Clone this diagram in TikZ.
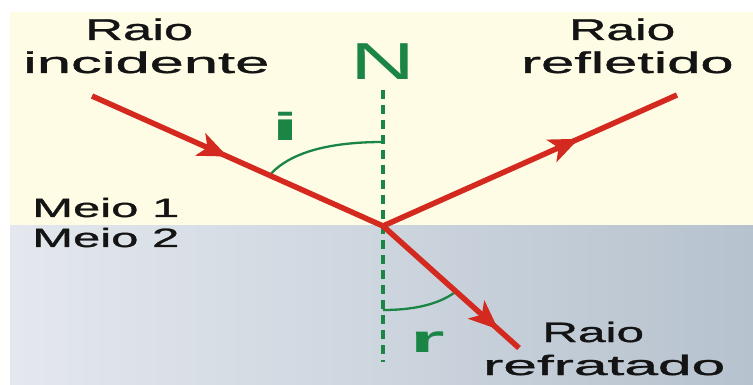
\documentclass[tikz,border=0pt]{standalone}
\usepackage{fontspec}
\setmainfont{Liberation Sans}
\newfontfamily\lblfont[FakeBold=0.9]{Liberation Sans}
\usetikzlibrary{decorations.markings,calc,shadings}
\definecolor{raycol}{HTML}{D3291F}
\definecolor{ncol}{HTML}{1A8544}
\definecolor{bgy}{HTML}{FEFCE5}
\definecolor{bgbL}{HTML}{E4E8EE}
\definecolor{bgbM}{HTML}{C9D2DC}
\definecolor{bgbR}{HTML}{B6C2CE}
\definecolor{txtcol}{HTML}{141414}
\newcommand{\wline}[3]{\fontsize{#1}{#1}\selectfont\scalebox{#2}[1]{#3}}
\tikzset{
  lbl/.style={inner sep=0pt, anchor=base west, text=txtcol, font=\lblfont},
  glbl/.style={inner sep=0pt, anchor=base west, text=ncol},
  ray/.style={draw=raycol, line width=5.5pt},
  rayarrow/.style={decoration={markings, mark=at position #1 with {\fill[raycol] (5pt,0pt) -- (-25pt,12.5pt) -- (-17pt,0pt) -- (-25pt,-12.5pt) -- cycle;}}, postaction={decorate}},
  normalline/.style={draw=ncol, line width=4.2pt, dash pattern=on 9pt off 6pt},
  anglearc/.style={draw=ncol, line width=2.3pt}
}
\begin{document}
\begin{tikzpicture}[x=1pt,y=-1pt]
\useasboundingbox (0,0) rectangle (753,385);
\fill[white] (0,0) rectangle (753,385);
\fill[bgy] (10,12) rectangle (753,226);
\shade[left color=bgbL, middle color=bgbM, right color=bgbR] (10,226) rectangle (753,385);

\coordinate (A) at (92,96);
\coordinate (O) at (383,226);
\coordinate (B) at (677,95);
\coordinate (C) at (519,348);
\coordinate (N1) at (383,90);
\coordinate (N2) at (383,362);

\draw[normalline] (N1) -- (N2);

\coordinate (ai) at ($(A)!0.61!(O)$);
\coordinate (aj) at (383,142);
\draw[anglearc] (ai) .. controls (290,152) and (330,142) .. (aj);
\coordinate (ri) at (383,310);
\coordinate (rj) at ($(O)!0.537!(C)$);
\draw[anglearc] (ri) .. controls (420,310) and (442,302) .. (rj);

\draw[ray, rayarrow=0.45] (A) -- (O);
\draw[ray, rayarrow=0.65] (O) -- (B);
\draw[ray, rayarrow=0.82] (O) -- (C);

\node[lbl] (incA) at (85,40) {\wline{30}{1.75}{Raio}};
\node[lbl] (incB) at (23,73) {\wline{30}{2.05}{incidente}};
\node[lbl] (refA) at (569,40) {\wline{30}{1.72}{Raio}};
\node[lbl] (refB) at (521,73) {\wline{30}{1.99}{refletido}};
\node[lbl] (frA) at (542,342) {\wline{28}{1.77}{Raio}};
\node[lbl] (frB) at (483,375) {\wline{28}{2.16}{refratado}};
\node[lbl] (m1) at (32,217) {\wline{26.5}{1.85}{Meio 1}};
\node[lbl] (m2) at (32,247) {\wline{26.5}{1.85}{Meio 2}};

\node[glbl] (N) at (350,80) {\wline{52}{1.73}{N}};
\node[glbl] (ilbl) at (271,141) {\wline{39}{2.6}{\bfseries i}};
\node[glbl] (rlbl) at (410,352) {\wline{38.5}{2.3}{\bfseries r}};
\end{tikzpicture}
\end{document}
